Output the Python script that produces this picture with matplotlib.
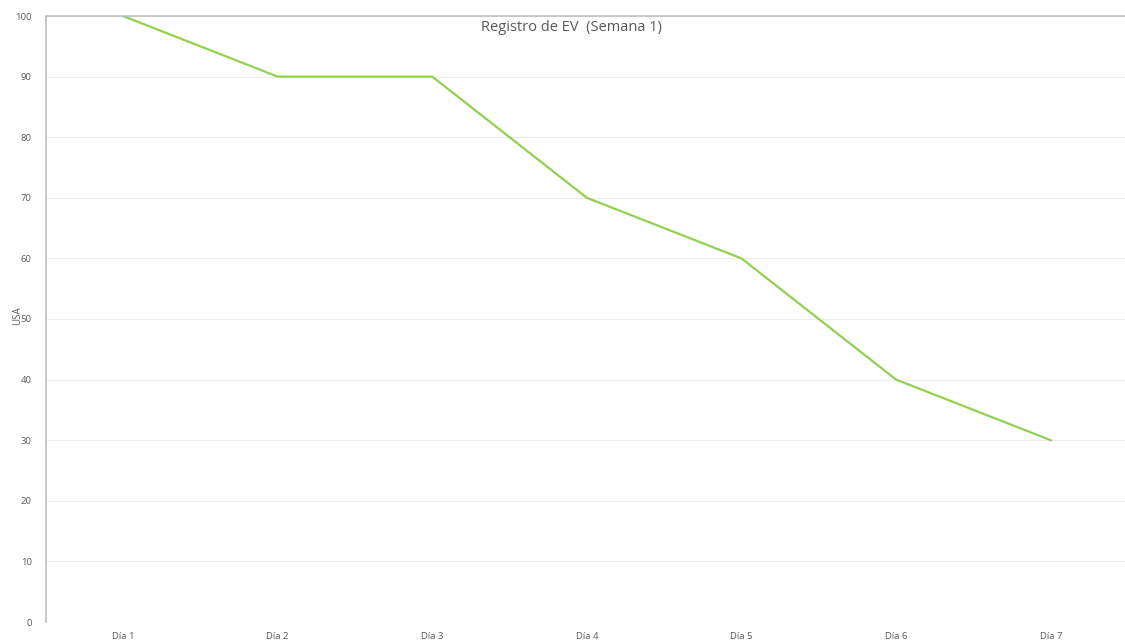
import matplotlib
matplotlib.use("Agg")
import matplotlib.pyplot as plt

categories = ["Día 1", "Día 2", "Día 3", "Día 4", "Día 5", "Día 6", "Día 7"]
values = [100, 90, 90, 70, 60, 40, 30]
yticks = [0, 10, 20, 30, 40, 50, 60, 70, 80, 90, 100]

plt.rcParams['font.family'] = ['Open Sans', 'DejaVu Sans']

fig = plt.figure(figsize=(11.25, 6.42), dpi=100)
ax = fig.add_axes([45.7/1125, 20/642, (1128-45.7)/1125, 606/642])

x = list(range(len(categories)))
ax.plot(x, values, color="#92D050", linewidth=1.6, solid_joinstyle="round")

ax.set_xlim(-0.5, len(categories) - 0.5)
ax.set_ylim(0, 100)
ax.set_yticks(yticks)
ax.set_xticks(x)
ax.set_xticklabels(categories)
ax.tick_params(axis="both", length=0, labelsize=6.8, colors="#595959")
ax.tick_params(axis="y", pad=10)
ax.tick_params(axis="x", pad=7)

ax.grid(axis="y", color="#EDEDED", linewidth=0.8)
ax.set_axisbelow(True)
for s in ["right", "bottom"]:
    ax.spines[s].set_visible(False)
ax.spines["left"].set_color("#BFBFBF")
ax.spines["top"].set_color("#BFBFBF")
ax.spines["left"].set_linewidth(1.2)
ax.spines["top"].set_linewidth(1.2)

ax.set_ylabel("USA", fontsize=7, color="#595959")
ax.yaxis.set_label_coords(-0.021, 0.505)
ax.text(0.486, 0.993, "Registro de EV  (Semana 1)", transform=ax.transAxes,
        ha="center", va="top", fontsize=10.5, color="#595959")

fig.savefig("out.png", dpi=100, facecolor="white")
